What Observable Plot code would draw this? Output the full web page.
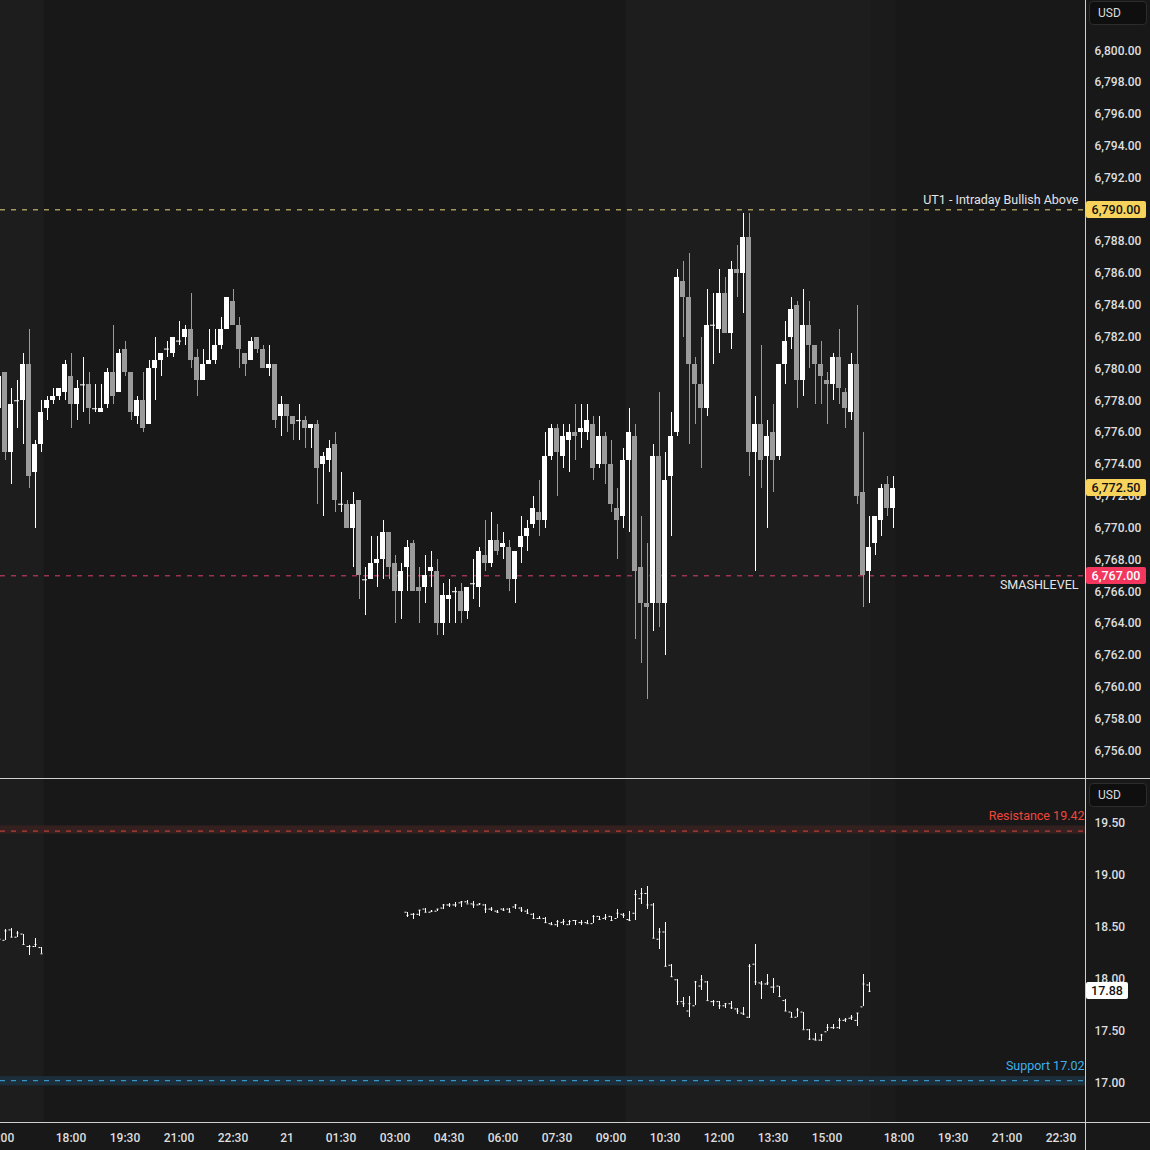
<!DOCTYPE html>
<html>
<head>
<meta charset="utf-8">
<script src="https://cdn.jsdelivr.net/npm/d3@7"></script>
<script src="https://cdn.jsdelivr.net/npm/@observablehq/plot@0.6"></script>
<style>
  html, body { margin:0; padding:0; background:#181818; }
  #chart { position:relative; width:1150px; height:1150px; background:#181818; overflow:hidden; font-family: Roboto, "Liberation Sans", Arial, sans-serif; }
  .pane { position:absolute; left:0; }
  .pane svg { display:block; }
  .sep { position:absolute; background:#cfcfcf; }
  .tag { position:absolute; left:1086px; height:17px; line-height:17px; font-size:12.5px; font-weight:500; text-align:center; border-radius:2px; font-family: Roboto, sans-serif; }
  .usd { position:absolute; left:1089px; width:58px; height:24px; line-height:22px; box-sizing:border-box; border:1px solid #2c2c2c; background:#0f0f0f; border-radius:4px; color:#dcdcdc; font-size:12px; padding-left:8px; }
</style>
</head>
<body>
<div id="chart"></div>
<script>
// ---------- ES (upper pane) 10-minute candles, bar index -1 .. 148 ----------
const esStart = -1;
const esOpen = [
  6777.50, 6779.75, 6774.75, 6778.00, 6778.00, 6780.25, 6773.50, 6775.25, 6777.50, 6778.00,
  6778.25, 6778.50, 6779.50, 6777.75, 6779.00, 6779.00, 6777.50, 6777.25, 6777.75, 6779.75,
  6778.50, 6781.25, 6779.75, 6777.00, 6778.00, 6776.50, 6780.00, 6780.50, 6781.25, 6781.00,
  6781.75, 6782.00, 6782.50, 6780.75, 6779.25, 6780.25, 6780.50, 6781.50, 6782.50, 6784.25,
  6782.75, 6781.00, 6780.50, 6782.00, 6781.25, 6780.00, 6780.25, 6777.00, 6777.75, 6777.00,
  6776.75, 6776.75, 6776.25, 6776.50, 6774.00, 6774.25, 6775.25, 6771.50, 6771.50, 6770.00,
  6771.75, 6766.75, 6766.75, 6767.75, 6768.00, 6769.75, 6767.75, 6766.00, 6767.50, 6769.00,
  6766.25, 6766.25, 6767.25, 6767.25, 6764.00, 6765.50, 6766.00, 6766.00, 6764.75, 6766.50,
  6766.25, 6768.25, 6767.75, 6769.25, 6768.75, 6768.75, 6766.75, 6768.75, 6769.50, 6770.25,
  6771.00, 6770.50, 6774.50, 6776.25, 6774.50, 6775.50, 6776.00, 6776.00, 6776.00, 6776.50,
  6774.00, 6775.75, 6774.00, 6771.25, 6770.75, 6774.25, 6775.75, 6767.50, 6765.25, 6765.25,
  6774.50, 6765.25, 6773.25, 6776.00, 6785.50, 6784.50, 6780.25, 6779.00, 6777.50, 6782.75,
  6782.50, 6784.75, 6782.25, 6786.25, 6786.00, 6788.25, 6774.75, 6776.50, 6774.50, 6776.00,
  6774.50, 6780.25, 6782.00, 6784.00, 6779.25, 6782.75, 6781.50, 6780.25, 6779.25, 6779.00,
  6780.75, 6778.50, 6777.25, 6780.25, 6772.25, 6767.25, 6769.00, 6770.50, 6772.75, 6771.25
];
const esHigh = [
  6780.00, 6779.75, 6778.75, 6779.25, 6781.00, 6782.50, 6775.50, 6778.00, 6778.25, 6778.75,
  6778.75, 6780.50, 6781.00, 6779.25, 6780.75, 6779.75, 6779.00, 6779.00, 6780.00, 6782.75,
  6781.25, 6781.75, 6779.75, 6778.25, 6779.75, 6780.50, 6782.00, 6781.00, 6781.75, 6782.00,
  6783.00, 6782.75, 6784.75, 6781.25, 6781.25, 6782.50, 6782.50, 6783.25, 6784.50, 6785.00,
  6783.25, 6781.00, 6782.00, 6782.00, 6781.50, 6781.50, 6780.25, 6778.25, 6777.75, 6777.00,
  6777.75, 6777.00, 6776.50, 6776.75, 6774.75, 6775.50, 6776.00, 6773.50, 6771.75, 6772.25,
  6771.75, 6767.50, 6769.50, 6769.50, 6770.50, 6769.75, 6768.25, 6767.75, 6769.25, 6769.25,
  6767.50, 6768.25, 6768.50, 6768.00, 6766.50, 6766.75, 6766.25, 6766.50, 6766.25, 6768.00,
  6768.75, 6770.50, 6771.00, 6770.25, 6769.75, 6769.25, 6768.50, 6770.75, 6770.50, 6772.00,
  6773.00, 6776.00, 6776.50, 6776.50, 6776.50, 6776.50, 6777.75, 6777.75, 6777.75, 6777.00,
  6777.00, 6776.00, 6775.50, 6772.50, 6775.00, 6777.50, 6776.50, 6770.75, 6769.00, 6775.25,
  6778.50, 6774.75, 6777.25, 6786.25, 6786.75, 6787.25, 6780.75, 6782.00, 6785.00, 6784.75,
  6786.25, 6785.75, 6786.75, 6787.75, 6789.75, 6789.75, 6778.25, 6781.50, 6776.75, 6777.75,
  6780.25, 6783.00, 6784.50, 6784.25, 6785.00, 6784.25, 6781.50, 6781.75, 6779.75, 6781.00,
  6782.50, 6778.75, 6781.00, 6784.00, 6776.00, 6770.75, 6770.75, 6772.75, 6773.25, 6773.25
];
const esLow = [
  6777.25, 6774.25, 6772.75, 6776.25, 6775.25, 6772.50, 6770.00, 6774.75, 6776.75, 6777.75,
  6778.00, 6778.00, 6776.25, 6776.75, 6777.25, 6776.50, 6777.25, 6777.25, 6777.50, 6777.75,
  6778.50, 6779.50, 6776.75, 6776.50, 6776.00, 6776.50, 6778.00, 6779.50, 6780.75, 6780.75,
  6781.50, 6781.50, 6780.00, 6778.25, 6779.25, 6780.25, 6780.25, 6781.25, 6782.50, 6782.75,
  6780.00, 6779.50, 6780.50, 6781.00, 6780.00, 6779.50, 6776.25, 6775.75, 6776.00, 6775.50,
  6775.50, 6775.00, 6775.00, 6771.50, 6770.75, 6773.50, 6771.00, 6771.00, 6770.00, 6767.50,
  6765.50, 6764.50, 6766.75, 6766.25, 6766.75, 6766.75, 6764.00, 6764.25, 6766.00, 6766.00,
  6764.00, 6765.25, 6766.25, 6763.25, 6763.25, 6764.00, 6764.00, 6764.00, 6764.25, 6765.50,
  6765.00, 6767.25, 6767.50, 6768.25, 6768.00, 6766.00, 6765.25, 6767.75, 6768.50, 6770.00,
  6769.50, 6770.00, 6774.25, 6772.00, 6773.75, 6773.50, 6774.25, 6775.00, 6775.50, 6773.00,
  6773.75, 6772.75, 6771.00, 6768.00, 6770.00, 6769.75, 6763.00, 6761.50, 6759.25, 6763.50,
  6763.75, 6762.00, 6769.50, 6775.75, 6782.00, 6775.25, 6776.50, 6773.75, 6777.00, 6780.25,
  6781.00, 6782.25, 6781.25, 6784.50, 6783.50, 6773.25, 6767.25, 6772.50, 6770.00, 6772.25,
  6774.25, 6779.00, 6781.25, 6777.50, 6778.25, 6780.00, 6777.75, 6777.75, 6776.50, 6778.00,
  6777.75, 6776.25, 6776.75, 6771.50, 6765.00, 6765.25, 6768.25, 6769.50, 6770.75, 6770.00
];
const esClose = [
  6779.50, 6774.75, 6777.75, 6778.00, 6780.25, 6773.25, 6775.25, 6777.25, 6778.00, 6778.25,
  6778.75, 6780.25, 6777.75, 6778.75, 6779.00, 6777.50, 6777.50, 6777.50, 6779.75, 6778.25,
  6781.00, 6779.75, 6777.25, 6778.00, 6776.25, 6780.00, 6780.50, 6781.00, 6781.25, 6782.00,
  6781.75, 6782.50, 6780.50, 6779.25, 6780.25, 6780.50, 6781.50, 6782.50, 6784.50, 6782.75,
  6781.25, 6780.25, 6781.75, 6781.25, 6780.00, 6780.25, 6776.75, 6777.75, 6777.00, 6776.50,
  6776.75, 6776.25, 6776.50, 6773.75, 6774.50, 6775.00, 6771.75, 6771.50, 6770.00, 6771.50,
  6767.00, 6766.75, 6767.75, 6768.00, 6769.75, 6767.50, 6766.00, 6767.25, 6768.75, 6766.00,
  6766.00, 6767.00, 6767.50, 6764.00, 6765.75, 6765.75, 6766.00, 6764.75, 6766.25, 6766.50,
  6768.50, 6767.75, 6769.25, 6768.50, 6769.00, 6766.75, 6768.50, 6769.50, 6770.00, 6771.25,
  6770.50, 6774.50, 6776.25, 6774.75, 6775.75, 6776.00, 6775.75, 6776.25, 6776.75, 6773.75,
  6775.75, 6774.00, 6771.50, 6770.50, 6774.25, 6776.00, 6767.25, 6765.25, 6765.00, 6774.50,
  6765.25, 6773.00, 6775.75, 6785.75, 6784.50, 6780.25, 6779.00, 6777.50, 6782.75, 6782.75,
  6784.75, 6782.25, 6786.25, 6786.00, 6788.25, 6774.75, 6776.50, 6774.25, 6775.75, 6774.25,
  6780.25, 6781.75, 6783.75, 6779.25, 6782.75, 6781.50, 6780.25, 6779.50, 6779.00, 6780.75,
  6778.75, 6777.50, 6780.25, 6772.00, 6767.00, 6768.75, 6770.75, 6772.50, 6771.25, 6772.50
];
// 6790 is covered by its level tag in the reference, so it is not listed as a tick label
const esTicks = [6756, 6758, 6760, 6762, 6764, 6766, 6768, 6770, 6772, 6774, 6776, 6778,
                 6780, 6782, 6784, 6786, 6788, 6792, 6794, 6796, 6798, 6800];
const esLevels = [
  {value: 6790, label: "UT1 - Intraday Bullish Above", line: "#ead680", tagBg: "#f7d35c", tagFg: "#111111"},
  {value: 6767, label: "SMASHLEVEL", line: "#d9426a", tagBg: "#f2365e", tagFg: "#ffffff"}
];
const esLast = {value: 6772.50, tagBg: "#f7d35c", tagFg: "#111111"};

// ---------- VIX (lower pane) OHLC bars ----------
const vixSegments = [[-1, 6], [67, 144]];
const vixOpen = [
  18.40, 18.37, 18.47, 18.40, 18.43, 18.31, 18.31, 18.30,
  18.64, 18.62, 18.62, 18.67, 18.64, 18.65, 18.68, 18.71, 18.71, 18.73,
  18.74, 18.72, 18.71, 18.71, 18.67, 18.65, 18.67, 18.67, 18.69, 18.68,
  18.65, 18.62, 18.58, 18.58, 18.53, 18.52, 18.54, 18.52, 18.56, 18.54,
  18.54, 18.53, 18.60, 18.58, 18.60, 18.58, 18.62, 18.57, 18.63, 18.77,
  18.82, 18.71, 18.38, 18.45, 18.13, 17.99, 17.78, 17.69, 17.74, 17.93,
  17.97, 17.78, 17.78, 17.74, 17.76, 17.71, 17.67, 17.63, 18.14, 17.96,
  17.95, 17.92, 17.93, 17.79, 17.68, 17.63, 17.68, 17.51, 17.42, 17.41,
  17.49, 17.53, 17.53, 17.60, 17.62, 17.60, 17.73, 17.94
];
const vixHigh = [
  18.41, 18.47, 18.48, 18.45, 18.43, 18.32, 18.39, 18.30,
  18.64, 18.63, 18.66, 18.68, 18.66, 18.67, 18.71, 18.72, 18.73, 18.74,
  18.75, 18.74, 18.72, 18.71, 18.69, 18.66, 18.68, 18.68, 18.71, 18.69,
  18.67, 18.63, 18.60, 18.59, 18.54, 18.56, 18.57, 18.56, 18.56, 18.56,
  18.56, 18.61, 18.60, 18.62, 18.60, 18.67, 18.63, 18.65, 18.85, 18.87,
  18.89, 18.72, 18.48, 18.54, 18.14, 17.99, 17.82, 17.83, 17.97, 18.03,
  17.97, 17.79, 17.78, 17.76, 17.78, 17.71, 17.72, 18.14, 18.33, 17.97,
  18.04, 18.00, 17.93, 17.80, 17.68, 17.71, 17.68, 17.51, 17.47, 17.46,
  17.56, 17.56, 17.62, 17.62, 17.65, 17.67, 18.04, 17.96
];
const vixLow = [
  18.37, 18.37, 18.40, 18.40, 18.33, 18.22, 18.30, 18.24,
  18.59, 18.57, 18.60, 18.64, 18.64, 18.65, 18.67, 18.69, 18.69, 18.69,
  18.72, 18.68, 18.70, 18.63, 18.65, 18.63, 18.65, 18.64, 18.67, 18.64,
  18.62, 18.57, 18.57, 18.53, 18.51, 18.49, 18.51, 18.51, 18.51, 18.51,
  18.53, 18.53, 18.56, 18.56, 18.56, 18.58, 18.58, 18.55, 18.56, 18.71,
  18.67, 18.39, 18.28, 18.12, 18.01, 17.74, 17.72, 17.63, 17.74, 17.89,
  17.79, 17.73, 17.70, 17.71, 17.70, 17.66, 17.65, 17.62, 17.94, 17.80,
  17.94, 17.86, 17.83, 17.69, 17.63, 17.63, 17.51, 17.41, 17.41, 17.40,
  17.49, 17.51, 17.51, 17.58, 17.60, 17.54, 17.73, 17.87
];
const vixClose = [
  18.38, 18.46, 18.40, 18.44, 18.33, 18.31, 18.33, 18.24,
  18.61, 18.62, 18.66, 18.64, 18.65, 18.67, 18.71, 18.71, 18.71, 18.74,
  18.72, 18.71, 18.72, 18.67, 18.67, 18.64, 18.66, 18.64, 18.71, 18.66,
  18.63, 18.58, 18.58, 18.54, 18.52, 18.55, 18.55, 18.55, 18.56, 18.54,
  18.53, 18.60, 18.57, 18.59, 18.56, 18.63, 18.61, 18.56, 18.81, 18.82,
  18.71, 18.39, 18.45, 18.12, 18.02, 17.78, 17.76, 17.76, 17.97, 17.99,
  17.79, 17.78, 17.74, 17.76, 17.72, 17.69, 17.66, 18.12, 17.97, 17.95,
  17.96, 17.92, 17.83, 17.69, 17.63, 17.70, 17.51, 17.42, 17.41, 17.46,
  17.53, 17.53, 17.60, 17.61, 17.63, 17.67, 17.95, 17.88
];
const vixTicks = [17.00, 17.50, 18.00, 18.50, 19.00, 19.50];
const vixLevels = [
  {value: 19.42, band: [19.39, 19.47], label: "Resistance 19.42", line: "#d9463e", bandFill: "#352020", text: "#f0463c"},
  {value: 17.02, band: [16.97, 17.06], label: "Support 17.02", line: "#3aaee8", bandFill: "#1c2e3a", text: "#3fb0ea"}
];
const vixLast = {value: 17.88};

// ---------- time axis ----------
const timeTickIdx = [-1, 11, 20, 29, 38, 47, 56, 65, 74, 83, 92, 101, 110, 119, 128, 137, 149, 158, 167, 176];
const timeTickLabels = ["15:00", "18:00", "19:30", "21:00", "22:30", "21", "01:30", "03:00", "04:30", "06:00",
                        "07:30", "09:00", "10:30", "12:00", "13:30", "15:00", "18:00", "19:30", "21:00", "22:30"];

// session shading (bar index ranges)
const sessions = [
  {from: -1, to: 6, fill: "#1d1d1d"},
  {from: 104, to: 144, fill: "#1d1d1d"},
  {from: 145, to: 148, fill: "#1b1b1b"}
];

// ---------- build ----------
const es = esOpen.map((o, i) => ({i: i + esStart, open: o, high: esHigh[i], low: esLow[i], close: esClose[i]}));
const vixIdx = vixSegments.flatMap(([a, b]) => d3.range(a, b + 1));
const vix = vixIdx.map((k, i) => ({i: k, open: vixOpen[i], high: vixHigh[i], low: vixLow[i], close: vixClose[i]}));
const timeLabel = new Map(timeTickIdx.map((k, j) => [k, timeTickLabels[j]]));

const W = 1150, AXW = 65, PLOTW = W - AXW;
const barPx = 6;
const xDomain = [-0.75, -0.75 + PLOTW / barPx];
const halfBody = 2.5 / barPx;
const tickLen = 2 / barPx;
const upC = "#ffffff", downC = "#9b9b9b";
const candleColor = d => d.close >= d.open ? upC : downC;
const fmtES = d3.format(",.2f");
const fmtVix = d3.format(".2f");
const font = "Roboto, 'Liberation Sans', Arial, sans-serif";

const TOPH = 779, BOTH = 371, BOTM = 28;
// y domains chosen so that pane pixels line up with the reference grid
const esDomain = [6754.20, 6803.155];
const vixDomain = [16.618, 19.916];

const shade = Plot.rect(sessions, {x1: d => d.from - 0.5, x2: d => d.to + 0.5, fill: d => d.fill});

const topPlot = Plot.plot({
  width: W, height: TOPH,
  marginTop: 0, marginRight: AXW, marginBottom: 0, marginLeft: 0,
  style: {background: "transparent", color: "#dedede", fontFamily: font, fontSize: "12px"},
  x: {domain: xDomain, axis: null, label: null},
  y: {domain: esDomain, axis: null, label: null},
  marks: [
    shade,
    Plot.axisY(esTicks, {anchor: "right", label: null, tickSize: 0, tickPadding: 9, tickFormat: fmtES, fontWeight: 500}),
    Plot.ruleY(esLevels, {y: "value", stroke: d => d.line, strokeDasharray: "5,6", strokeWidth: 1}),
    Plot.text([esLevels[0]], {y: "value", text: "label", frameAnchor: "right", textAnchor: "end", dx: -7, dy: -10, fill: "#e4e4e4", fontSize: 12.5}),
    Plot.text([esLevels[1]], {y: "value", text: "label", frameAnchor: "right", textAnchor: "end", dx: -7, dy: 9, fill: "#e4e4e4", fontSize: 12.5}),
    Plot.ruleX(es, {x: "i", y1: "low", y2: "high", stroke: candleColor, strokeWidth: 1, shapeRendering: "crispEdges"}),
    Plot.rect(es, {x1: d => d.i - halfBody, x2: d => d.i + halfBody, y1: "open", y2: "close", fill: candleColor, shapeRendering: "crispEdges"}),
    Plot.ruleY(es.filter(d => d.open === d.close), {x1: d => d.i - halfBody, x2: d => d.i + halfBody, y: "close", stroke: candleColor, strokeWidth: 1})
  ]
});

const botPlot = Plot.plot({
  width: W, height: BOTH,
  marginTop: 0, marginRight: AXW, marginBottom: BOTM, marginLeft: 0,
  style: {background: "transparent", color: "#dedede", fontFamily: font, fontSize: "12px"},
  x: {domain: xDomain, axis: null, label: null},
  y: {domain: vixDomain, axis: null, label: null},
  marks: [
    shade,
    Plot.rect(vixLevels, {y1: d => d.band[0], y2: d => d.band[1], fill: d => d.bandFill}),
    Plot.ruleY(vixLevels, {y: "value", stroke: d => d.line, strokeDasharray: "5,6", strokeWidth: 1}),
    Plot.text(vixLevels, {y: "value", text: "label", frameAnchor: "right", textAnchor: "end", dx: -1, dy: -15, fill: d => d.text, fontSize: 12.5}),
    Plot.axisY(vixTicks, {anchor: "right", label: null, tickSize: 0, tickPadding: 9, tickFormat: fmtVix, fontWeight: 500}),
    Plot.axisX(timeTickIdx, {anchor: "bottom", label: null, tickSize: 0, tickPadding: 11, tickFormat: d => timeLabel.get(d), fontWeight: 500}),
    Plot.ruleX(vix, {x: "i", y1: "low", y2: "high", stroke: "#ffffff", strokeWidth: 1, shapeRendering: "crispEdges"}),
    Plot.ruleY(vix, {x1: d => d.i - tickLen, x2: d => d.i, y: "open", stroke: "#ffffff", strokeWidth: 1}),
    Plot.ruleY(vix, {x1: d => d.i, x2: d => d.i + tickLen, y: "close", stroke: "#ffffff", strokeWidth: 1})
  ]
});

const chart = document.getElementById("chart");
function pane(node, top) {
  const d = document.createElement("div");
  d.className = "pane";
  d.style.top = top + "px";
  d.appendChild(node);
  chart.appendChild(d);
}
pane(topPlot, 0);
pane(botPlot, TOPH);

function sep(l, t, w, h) {
  const d = document.createElement("div");
  d.className = "sep";
  Object.assign(d.style, {left: l + "px", top: t + "px", width: w + "px", height: h + "px"});
  chart.appendChild(d);
}
sep(0, TOPH - 1, W, 1);
sep(0, TOPH + BOTH - BOTM, W, 1);
sep(PLOTW, 0, 1, 1150);

function tag(top, text, bg, fg, width) {
  const d = document.createElement("div");
  d.className = "tag";
  d.textContent = text;
  Object.assign(d.style, {top: (top - 8.5) + "px", background: bg, color: fg, width: width + "px"});
  chart.appendChild(d);
}
const yTop = topPlot.scale("y");
const yBot = botPlot.scale("y");
esLevels.forEach(l => tag(yTop.apply(l.value), fmtES(l.value), l.tagBg, l.tagFg, 60));
tag(yTop.apply(esLast.value), fmtES(esLast.value), esLast.tagBg, esLast.tagFg, 60);
tag(TOPH + yBot.apply(vixLast.value), fmtVix(vixLast.value), "#ffffff", "#111111", 42);

function usd(top) {
  const d = document.createElement("div");
  d.className = "usd";
  d.textContent = "USD";
  d.style.top = top + "px";
  chart.appendChild(d);
}
usd(1);
usd(TOPH + 4);
</script>
</body>
</html>
